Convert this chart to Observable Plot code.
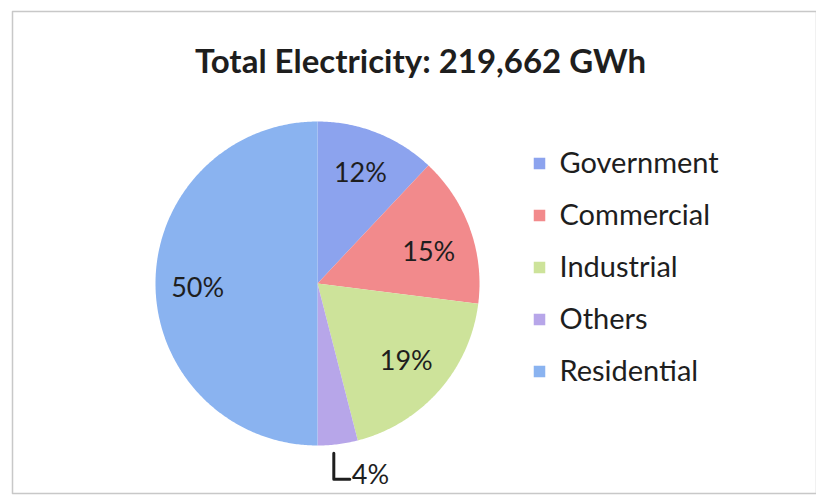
<!DOCTYPE html>
<html>
<head>
<meta charset="utf-8">
<script src="https://cdn.jsdelivr.net/npm/d3@7"></script>
<script src="https://cdn.jsdelivr.net/npm/@observablehq/plot@0.6"></script>
<style>
  html, body { margin: 0; padding: 0; background: #fff; }
  #chart svg { display: block; }
</style>
</head>
<body>
<div id="chart"></div>
<script>
// ---- data ----
const categories = ["Government", "Commercial", "Industrial", "Others", "Residential"];
const shares = [12, 15, 19, 4, 50];
const labels = ["12%", "15%", "19%", "4%", "50%"];
const colors = ["#8ca3ee", "#f28a8c", "#cde39a", "#b7a6e9", "#8ab3f0"];
const title = "Total Electricity: 219,662 GWh";

// ---- layout ----
const W = 816, H = 497;
const cx = 317, cy = 283, R = 162;
const font = "Lato, 'Open Sans', sans-serif";

// pie angles from data (start at 12 o'clock, clockwise)
const pie = d3.pie().sort(null).value(d => d.v).startAngle(0).endAngle(2 * Math.PI);
const rows = categories.map((c, i) => ({c, v: shares[i], label: labels[i], i}));
const arcs = pie(rows);

const pt = (a, r) => [cx + r * Math.sin(a), cy - r * Math.cos(a)];

const polys = [];
for (const a of arcs) {
  const n = Math.max(2, Math.ceil((a.endAngle - a.startAngle) / 0.01));
  polys.push({c: a.data.c, x: cx, y: cy});
  for (let k = 0; k <= n; k++) {
    const ang = a.startAngle + (a.endAngle - a.startAngle) * k / n;
    const [x, y] = pt(ang, R);
    polys.push({c: a.data.c, x, y});
  }
  polys.push({c: a.data.c, x: cx, y: cy});
}

// label positions: radial fraction per slice, plus small best-fit nudges
const labelRadius = {Government: 0.72, Commercial: 0.73, Industrial: 0.73, Residential: 0.74};
const labelNudge = {Government: -2, Commercial: 9, Industrial: 0, Residential: 5};
const sliceLabels = arcs.filter(a => a.data.c !== "Others").map(a => {
  const mid = (a.startAngle + a.endAngle) / 2;
  const [x, y] = pt(mid, R * labelRadius[a.data.c]);
  return {c: a.data.c, label: a.data.label, x, y: y + labelNudge[a.data.c]};
});
// "Others" label outside with leader
const oth = arcs.find(a => a.data.c === "Others");
const othMid = (oth.startAngle + oth.endAngle) / 2;
const [ox, oy] = pt(othMid, R);
const leader = [
  {x: ox - 4, y: oy + 9},
  {x: ox - 4, y: oy + 35},
  {x: ox + 12, y: oy + 35}
];
const othLabel = {x: ox + 14, y: oy + 31, label: oth.data.label};

// legend
const legend = categories.map((c, i) => ({c, x: 539, y: 163 + i * 52}));

const border = [
  {x: 12, y: 11}, {x: 816, y: 11}, {x: 816, y: 493}, {x: 12, y: 493}, {x: 12, y: 11}
];

const chart = Plot.plot({
  width: W,
  height: H,
  margin: 0,
  x: {domain: [0, W], range: [0, W], axis: null},
  y: {domain: [0, H], range: [0, H], axis: null},
  color: {domain: categories, range: colors},
  style: {fontFamily: font, background: "#fff"},
  marks: [
    Plot.line(border, {x: "x", y: "y", stroke: "#c8c8c8", strokeWidth: 1.5}),
    Plot.line(polys, {x: "x", y: "y", z: "c", fill: "c", stroke: "none", curve: "linear"}),
    Plot.text(sliceLabels, {x: "x", y: "y", text: "label", fontSize: 27, fill: "#1e1e1e"}),
    Plot.line(leader, {x: "x", y: "y", stroke: "#1e1e1e", strokeWidth: 3}),
    Plot.text([othLabel], {x: "x", y: "y", text: "label", fontSize: 27, fill: "#1e1e1e", textAnchor: "start", lineAnchor: "middle"}),
    Plot.dot(legend, {x: "x", y: "y", symbol: "square", r: 6.5, fill: "c"}),
    Plot.text(legend, {x: d => d.x + 20, y: "y", text: "c", fontSize: 29, fill: "#1e1e1e", textAnchor: "start"}),
    Plot.text([title], {x: () => 420, y: () => 62, text: d => d, fontSize: 33, fontWeight: "bold", fill: "#1e1e1e"})
  ]
});
document.getElementById("chart").append(chart);
</script>
</body>
</html>
